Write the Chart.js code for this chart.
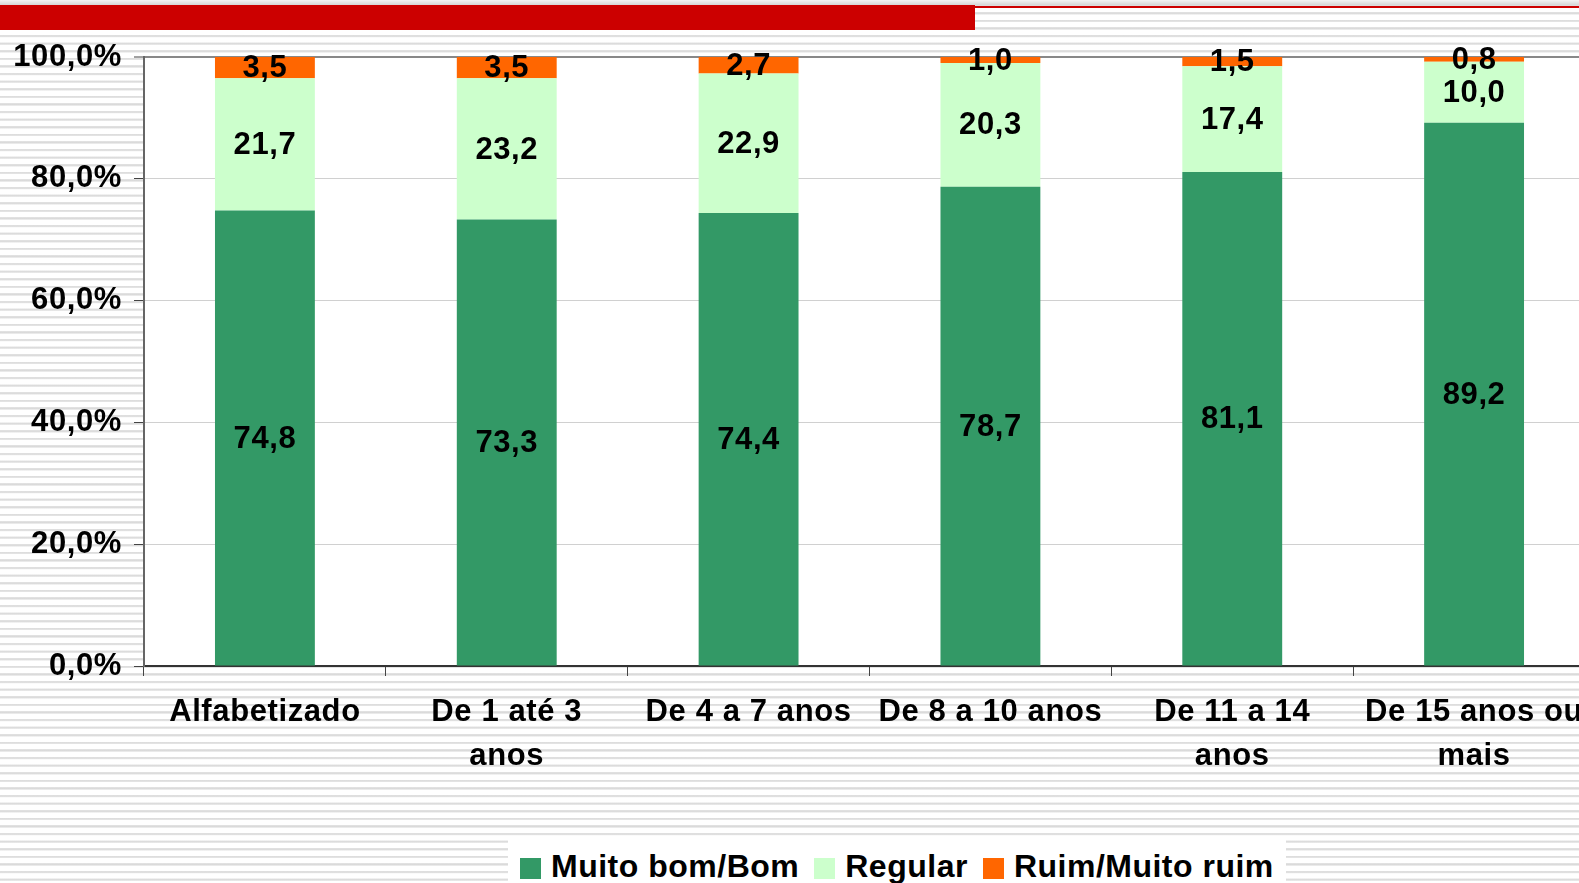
<!DOCTYPE html>
<html>
<head>
<meta charset="utf-8">
<script src="https://cdn.jsdelivr.net/npm/chart.js@4"></script>
<style>
    html, body {
        margin: 0;
        padding: 0;
        width: 1579px;
        height: 883px;
        overflow: hidden;
        background-color: #ffffff;
        background-image: repeating-linear-gradient(to bottom,
            #ffffff 0px, #ffffff 4.4px, #e2e2e2 4.6px, #dadada 5.8px, #ececec 6.8px, #ffffff 7.2px, #ffffff 7.6px);
        font-family: "Liberation Sans", Arial, sans-serif;
    }
    .top-shade {
        position: absolute; left: 0; top: 0; width: 1579px; height: 5px;
        background: linear-gradient(to bottom, #f4f4f4, #d6d6d6);
    }
    .red-block {
        position: absolute; left: 0; top: 5px; width: 975px; height: 25px;
        background: #cc0000;
    }
    .red-line {
        position: absolute; left: 975px; top: 6px; width: 604px; height: 2px;
        background: #cc0000;
    }
    #chart {
        position: absolute; left: 0; top: 0;
    }
    .legend {
        position: absolute; left: 508px; top: 838px; width: 778px; height: 56px;
        background: #ffffff;
        display: flex; align-items: center; flex-wrap: nowrap;
        padding-left: 12px; box-sizing: border-box;
        white-space: nowrap;
    }
    .legend-item {
        display: flex; align-items: center; flex-shrink: 0;
        margin-right: 15px;
        font-weight: bold; font-size: 32px; line-height: 32px; color: #000;
        letter-spacing: 0.5px;
    }
    .legend-item i {
        display: inline-block; flex-shrink: 0;
        width: 21px; height: 21px; margin-right: 10px; margin-top: 4px;
    }
</style>
</head>
<body>
<div class="top-shade"></div>
<div class="red-block"></div>
<div class="red-line"></div>
<canvas id="chart" width="1604" height="883"></canvas>
<div class="legend" id="legend"></div>

<script>
    // Escolaridade x avaliação (%)
    const categories = [
        'Alfabetizado',
        ['De 1 até 3', 'anos'],
        'De 4 a 7 anos',
        'De 8 a 10 anos',
        ['De 11 a 14', 'anos'],
        ['De 15 anos ou', 'mais']
    ];
    const seriesNames = ['Muito bom/Bom', 'Regular', 'Ruim/Muito ruim'];
    const muitoBomBom = [74.8, 73.3, 74.4, 78.7, 81.1, 89.2];
    const regular = [21.7, 23.2, 22.9, 20.3, 17.4, 10.0];
    const ruimMuitoRuim = [3.5, 3.5, 2.7, 1.0, 1.5, 0.8];
    const seriesColors = ['#339966', '#ccffcc', '#ff6600'];
    const yTicks = [0, 20, 40, 60, 80, 100];

    const FONT = '"Liberation Sans", Arial, sans-serif';

    function fmt(v) {
        return v.toFixed(1).replace('.', ',');
    }

    // slightly spaced lettering, like the original slide
    const spacing = {
        id: 'spacing',
        beforeLayout(chart) { chart.ctx.letterSpacing = '0.6px'; },
        beforeDraw(chart) { chart.ctx.letterSpacing = '0.6px'; }
    };

    // white plot area over the striped page
    const plotBackground = {
        id: 'plotBackground',
        beforeDraw(chart) {
            const a = chart.chartArea;
            const ctx = chart.ctx;
            ctx.save();
            ctx.fillStyle = '#ffffff';
            ctx.fillRect(a.left, a.top, a.right - a.left, a.bottom - a.top);
            ctx.restore();
        }
    };

    // value labels in the middle of each segment
    const valueLabels = {
        id: 'valueLabels',
        afterDatasetsDraw(chart) {
            const ctx = chart.ctx;
            ctx.save();
            ctx.font = 'bold 31px ' + FONT;
            ctx.fillStyle = '#000000';
            ctx.textAlign = 'center';
            ctx.textBaseline = 'middle';
            chart.data.datasets.forEach((ds, i) => {
                chart.getDatasetMeta(i).data.forEach((bar, j) => {
                    const y = (bar.y + bar.base) / 2;
                    ctx.fillText(fmt(ds.data[j]), bar.x, y + 1);
                });
            });
            ctx.restore();
        }
    };

    const chart = new Chart(document.getElementById('chart'), {
        type: 'bar',
        data: {
            labels: categories,
            datasets: [muitoBomBom, regular, ruimMuitoRuim].map((values, i) => ({
                label: seriesNames[i],
                data: values,
                backgroundColor: seriesColors[i],
                borderWidth: 0,
                barPercentage: 0.413,
                categoryPercentage: 1
            }))
        },
        options: {
            responsive: false,
            animation: false,
            devicePixelRatio: 1,
            layout: {
                padding: { top: 57, right: 9, bottom: 0, left: 0 }
            },
            plugins: {
                legend: { display: false },
                tooltip: { enabled: false }
            },
            scales: {
                x: {
                    stacked: true,
                    afterFit: (scale) => { scale.height = 217; },
                    border: { color: '#333333', width: 2 },
                    grid: {
                        offset: true,
                        drawOnChartArea: false,
                        drawTicks: true,
                        tickLength: 10,
                        tickColor: '#444444',
                        tickWidth: 1
                    },
                    ticks: {
                        color: '#000000',
                        font: { family: FONT, size: 31, weight: 'bold', lineHeight: 1.42 },
                        padding: 14,
                        maxRotation: 0,
                        minRotation: 0,
                        autoSkip: false
                    }
                },
                y: {
                    stacked: true,
                    min: 0,
                    max: 100,
                    afterFit: (scale) => { scale.width = 144; },
                    afterBuildTicks: (scale) => {
                        scale.ticks = yTicks.map(v => ({ value: v }));
                    },
                    border: { color: '#666666', width: 2 },
                    grid: {
                        color: (c) => c.tick && c.tick.value === 100 ? '#888888' : '#d0d0d0',
                        lineWidth: (c) => c.tick && c.tick.value === 100 ? 2 : 1,
                        tickLength: 10,
                        tickColor: '#444444',
                        tickWidth: 1
                    },
                    ticks: {
                        color: '#000000',
                        font: { family: FONT, size: 31, weight: 'bold' },
                        padding: 12,
                        callback: (v) => fmt(v) + '%'
                    }
                }
            }
        },
        plugins: [spacing, plotBackground, valueLabels]
    });

    // legend as plain html so it can sit in its own white box
    const legend = document.getElementById('legend');
    seriesNames.forEach((name, i) => {
        const item = document.createElement('span');
        item.className = 'legend-item';
        const swatch = document.createElement('i');
        swatch.style.background = seriesColors[i];
        item.appendChild(swatch);
        item.appendChild(document.createTextNode(name));
        legend.appendChild(item);
    });
</script>
</body>
</html>
